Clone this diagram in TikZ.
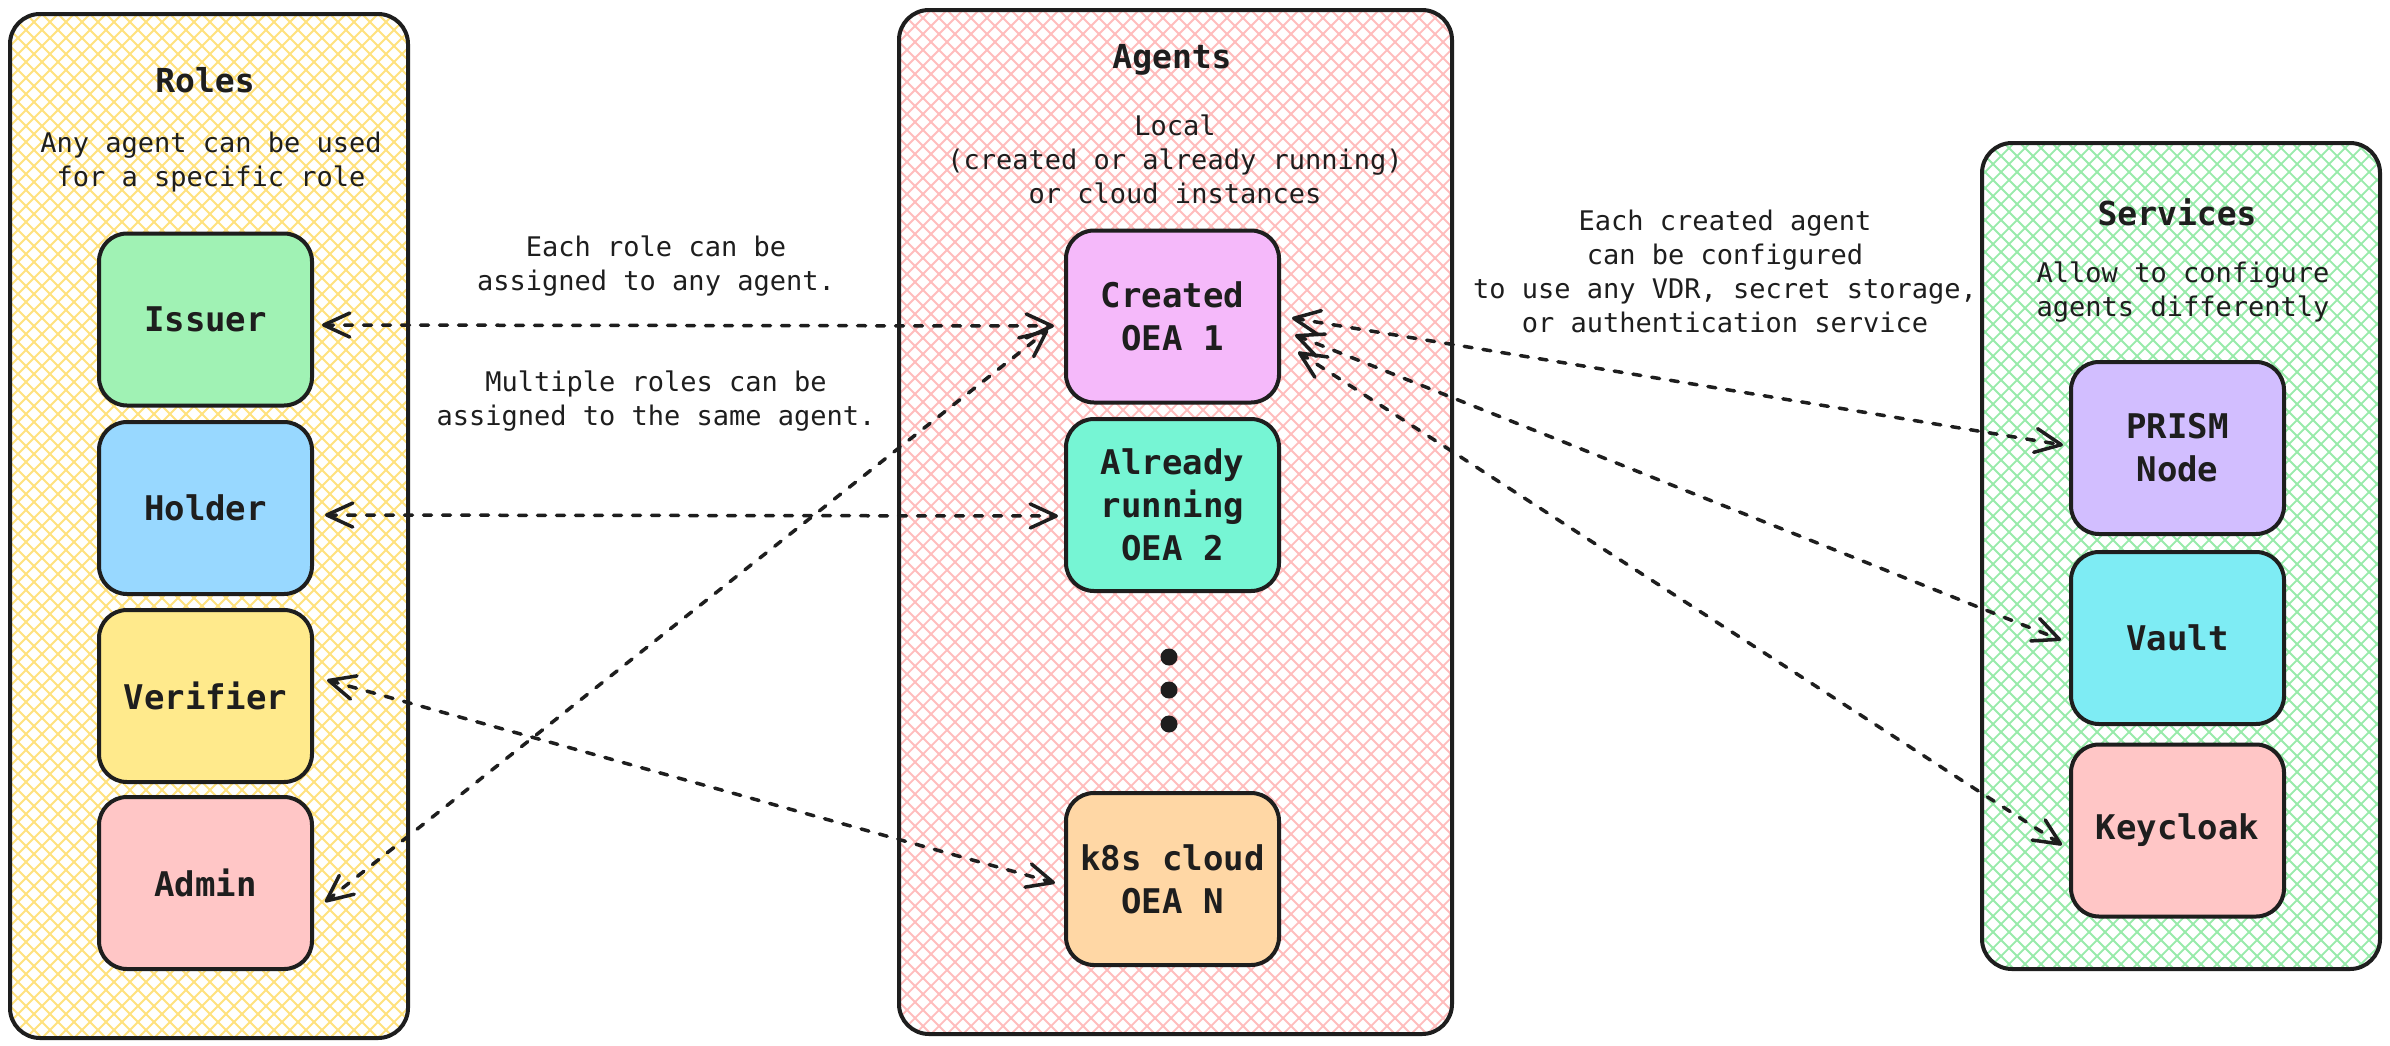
\documentclass[tikz,border=0pt]{standalone}
\usepackage{fontspec}
\setmonofont{DejaVu Sans Mono}
\usetikzlibrary{arrows.meta,calc}
\definecolor{ink}{HTML}{1E1E1E}
\definecolor{hyellow}{HTML}{FFE27E}
\definecolor{hpink}{HTML}{FFBDBD}
\definecolor{hgreen}{HTML}{98EBAA}
\definecolor{cissuer}{HTML}{A0F2B4}
\definecolor{cholder}{HTML}{98D8FF}
\definecolor{cverifier}{HTML}{FFEA8C}
\definecolor{cadmin}{HTML}{FFC6C6}
\definecolor{ccreated}{HTML}{F5B9FA}
\definecolor{calready}{HTML}{76F5D4}
\definecolor{ck8s}{HTML}{FFD7A5}
\definecolor{cprism}{HTML}{D2BEFF}
\definecolor{cvault}{HTML}{7EECF4}
\definecolor{ckeycloak}{HTML}{FFC6C6}
\newcommand\boxfont{\ttfamily\bfseries\fontsize{34}{43}\selectfont}
\newcommand\titlefont{\ttfamily\bfseries\fontsize{33}{42}\selectfont}
\newcommand\smallfont{\ttfamily\fontsize{27}{34}\selectfont}
\newcommand\hatchbox[5]{%
  \begin{scope}
  \clip[rounded corners=30pt] (#1,#2) rectangle (#3,#4);
  \pgfmathtruncatemacro\hH{#4-#2}
  \pgfmathtruncatemacro\hA{#1-\hH}
  \pgfmathtruncatemacro\hB{\hA+16}
  \foreach \i in {\hA,\hB,...,#3} \draw[hatch,#5] (\i,#2) -- ++(\hH,\hH);
  \pgfmathtruncatemacro\hC{#3+\hH}
  \pgfmathtruncatemacro\hD{#1+16}
  \foreach \i in {#1,\hD,...,\hC} \draw[hatch,#5] (\i,#2) -- ++(-\hH,\hH);
  \end{scope}}
\begin{document}
\begin{tikzpicture}[x=1pt,y=-1pt,
  hatch/.style={line width=1.8pt},
  container/.style={draw=ink, line width=4pt, rounded corners=30pt, inner sep=0pt, outer sep=0pt},
  itembox/.style={draw=ink, line width=4pt, rounded corners=28pt, minimum width=213pt, minimum height=172pt, inner sep=0pt, outer sep=0pt, align=center, font=\boxfont, text=ink},
  title/.style={font=\titlefont, text=ink, inner sep=0pt},
  note/.style={font=\smallfont, text=ink, inner sep=0pt, align=center},
  dot/.style={circle, fill=ink, minimum size=17pt, inner sep=0pt},
  conn/.style={draw=ink, line width=3.5pt, dash pattern=on 8pt off 11pt, line cap=round, >={Straight Barb[length=26pt,width=24pt,round]}, <->}
]
\useasboundingbox (0,0) rectangle (2390,1045);
\fill[white] (0,0) rectangle (2390,1045);

% hatched containers
\hatchbox{10}{14}{408}{1038}{hyellow}
\hatchbox{899}{10}{1452}{1034}{hpink}
\hatchbox{1982}{143}{2380}{969}{hgreen}
\node[container, minimum width=398pt, minimum height=1024pt] (roles) at (209,526) {};
\node[container, minimum width=553pt, minimum height=1024pt] (agents) at (1175.5,522) {};
\node[container, minimum width=398pt, minimum height=826pt] (services) at (2181,556) {};

% titles
\node[title] (rolestitle) at (205,80) {Roles};
\node[note] (rolessub) at (211,162) {Any agent can be used\\for a specific role};
\node[title] (agentstitle) at (1172,60) {Agents};
\node[note] (agentssub) at (1175,159) {Local\\(created or already running)\\or cloud instances};
\node[title] (servicestitle) at (2177,212) {Services};
\node[note] (servicessub) at (2183,292) {Allow to configure\\agents differently};

% role boxes
\node[itembox, fill=cissuer] (issuer) at (205.5,319.5) {Issuer};
\node[itembox, fill=cholder] (holder) at (205.5,508) {Holder};
\node[itembox, fill=cverifier] (verifier) at (205.5,696) {Verifier};
\node[itembox, fill=cadmin] (admin) at (205.5,883) {Admin};

% agent boxes
\node[itembox, fill=ccreated] (created) at (1172.5,316.5) {Created\\OEA 1};
\node[itembox, fill=calready] (already) at (1172.5,505) {Already\\running\\OEA 2};
\node[dot] (d1) at (1169,657) {};
\node[dot] (d2) at (1169,690) {};
\node[dot] (d3) at (1169,724) {};
\node[itembox, fill=ck8s] (k8s) at (1172.5,879) {k8s cloud\\OEA N};

% service boxes
\node[itembox, fill=cprism] (prism) at (2177.5,448) {PRISM\\Node};
\node[itembox, fill=cvault] (vault) at (2177.5,638) {Vault};
\node[itembox, fill=ckeycloak] (keycloak) at (2177.5,830.5) {Keycloak};

% connector labels
\node[note] (lab1) at (656,266) {Each role can be\\assigned to any agent.};
\node[note] (lab2) at (656,401) {Multiple roles can be\\assigned to the same agent.};
\node[note] (lab3) at (1725,271) {Each created agent\\can be configured\\to use any VDR, secret storage,\\or authentication service};

% connectors
\draw[conn] ($(issuer.east)+(10,5.5)$) -- ($(created.west)+(-12,9.5)$);
\draw[conn] ($(holder.east)+(13,7)$) -- ($(already.west)+(-8,11)$);
\draw[conn] ($(verifier.east)+(15,-16)$) -- ($(k8s.west)+(-11,4)$);
\draw[conn] ($(admin.east)+(13,19)$) -- ($(created.west)+(-18,13.5)$);
\draw[conn] ($(created.east)+(13,1.5)$) -- ($(prism.west)+(-8,-3)$);
\draw[conn] ($(created.east)+(16,18.5)$) -- ($(vault.west)+(-10,2)$);
\draw[conn] ($(created.east)+(19,35.5)$) -- ($(keycloak.west)+(-9,14.5)$);
\end{tikzpicture}
\end{document}
